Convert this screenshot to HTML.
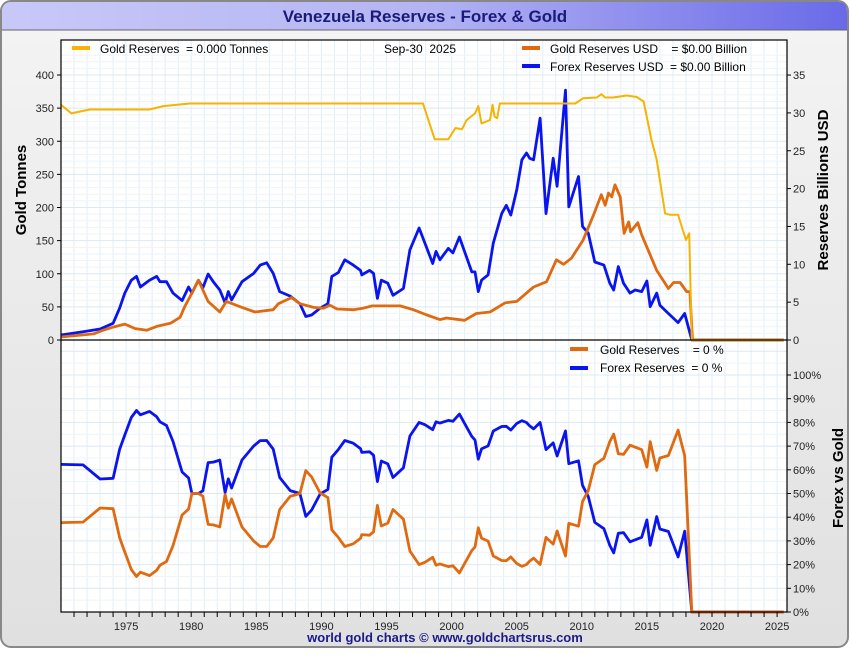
<!DOCTYPE html>
<html><head><meta charset="utf-8">
<style>
body{margin:0;width:850px;height:650px;overflow:hidden;background:#fff;font-family:"Liberation Sans",sans-serif;}
</style></head>
<body>
<svg id="c" width="850" height="650" xmlns="http://www.w3.org/2000/svg" font-family="Liberation Sans, sans-serif">
<defs>
<linearGradient id="tg" x1="0" x2="1" y1="0" y2="0"><stop offset="0" stop-color="#c8c8f8"/><stop offset="0.5" stop-color="#b4b4f4"/><stop offset="1" stop-color="#6a6ae8"/></linearGradient>
<linearGradient id="bg" x1="0" x2="0" y1="0" y2="1"><stop offset="0" stop-color="#f4f4f4"/><stop offset="1" stop-color="#e0e0e0"/></linearGradient>
</defs>
<rect x="1" y="1" width="847" height="646" rx="10" fill="url(#bg)" stroke="#888" stroke-width="2"/>
<path d="M2 30 V12 Q2 2 12 2 H838 Q847 2 847 12 V30 Z" fill="url(#tg)"/>
<line x1="2" y1="30" x2="847" y2="30" stroke="#666"/>
<text x="425" y="22" text-anchor="middle" font-size="17" font-weight="bold" fill="#1a1a7a">Venezuela Reserves - Forex &amp; Gold</text>
<rect x="61" y="40" width="726" height="572" fill="#fff"/>
<g id="grid"></g>
<g id="series"></g>
<rect x="61" y="40" width="726" height="572" fill="none" stroke="#000" stroke-width="1.2"/>
<line x1="61" y1="340" x2="787" y2="340" stroke="#000" stroke-width="1.2"/>
<g id="axes" font-size="11" fill="#222"></g>
<text transform="translate(26,190) rotate(-90)" text-anchor="middle" font-size="15" font-weight="bold">Gold Tonnes</text>
<text transform="translate(828,190) rotate(-90)" text-anchor="middle" font-size="15" font-weight="bold">Reserves Billions USD</text>
<text transform="translate(843,478) rotate(-90)" text-anchor="middle" font-size="15" font-weight="bold">Forex vs Gold</text>
<g font-size="12" fill="#000">
<rect x="72" y="46" width="18" height="4" fill="#f5b400"/>
<text x="100" y="53" xml:space="preserve">Gold Reserves  = 0.000 Tonnes</text>
<text x="384" y="53" xml:space="preserve">Sep-30  2025</text>
<rect x="522" y="46" width="18" height="4" fill="#e06a10"/>
<text x="550" y="53" xml:space="preserve">Gold Reserves USD    = $0.00 Billion</text>
<rect x="522" y="64" width="18" height="4" fill="#0a14f0"/>
<text x="550" y="71" xml:space="preserve">Forex Reserves USD  = $0.00 Billion</text>
<rect x="570" y="347" width="18" height="4" fill="#e06a10"/>
<text x="600" y="354" xml:space="preserve">Gold Reserves    = 0 %</text>
<rect x="570" y="366" width="18" height="4" fill="#0a14f0"/>
<text x="600" y="372" xml:space="preserve">Forex Reserves  = 0 %</text>
</g>
<text x="445" y="642" text-anchor="middle" font-size="13" font-weight="bold" fill="#1a1a8a">world gold charts © www.goldchartsrus.com</text>
</svg>
<script>
const goldYears=[1970,1970.8,1972.2,1976.8,1977.85,1979.9,1997.8,1998.7,1999.75,2000.3,2000.8,2001.15,2001.8,2002.05,2002.3,2002.95,2003.15,2003.3,2003.5,2003.7,2009.5,2010.1,2011.15,2011.5,2011.8,2012.4,2013.45,2014.2,2014.75,2015.35,2015.75,2016.4,2016.8,2017.4,2017.8,2018.0,2018.25,2018.45,2025.5];
const goldTonnes=[355,342,348,348,353,357,357,303,303,320,318,332,342,353,327,332,355,337,335,357,357,365,366,371,366,366,369,367,360,302,272,191,189,189,163,151,161,0,0];
const forexYears=[1970,1971.7,1973,1974,1974.5,1974.9,1975.4,1975.8,1976.1,1976.8,1977.35,1977.6,1978.1,1978.6,1979.3,1979.8,1980.05,1980.55,1980.9,1981.3,1981.7,1982.2,1982.6,1982.85,1983.1,1983.9,1984.8,1985.3,1985.8,1986.3,1986.8,1987.6,1988.35,1988.8,1989.25,1989.9,1990.5,1990.8,1991.3,1991.8,1992.45,1993,1993.1,1993.7,1994,1994.3,1994.6,1995.1,1995.5,1996.3,1996.8,1997.5,1997.95,1998.55,1998.8,1999.1,1999.75,2000.1,2000.6,2001.55,2001.8,2002.05,2002.3,2002.8,2003.2,2003.85,2004.2,2004.55,2005,2005.4,2005.75,2006,2006.3,2006.8,2007.25,2007.8,2008.1,2008.75,2009.0,2009.75,2010.05,2010.5,2011,2011.7,2012.15,2012.45,2012.8,2013.2,2013.7,2014.1,2014.6,2015,2015.25,2015.75,2016.0,2016.65,2017.4,2017.9,2018.45,2025.5];
const forexUsd=[0.66,1.1,1.45,2.2,4.2,6.2,7.9,8.4,7.0,7.9,8.4,7.7,7.7,6.2,5.2,7.0,6.2,7.9,6.9,8.7,7.7,6.6,4.9,6.4,5.3,7.7,8.8,9.9,10.2,8.8,6.4,5.8,4.8,3.1,3.3,4.2,4.8,8.4,8.9,10.6,9.9,9.2,8.6,9.2,8.8,5.5,7.9,7.5,5.9,6.8,11.9,14.8,12.8,10.1,11.7,10.6,12.1,11.5,13.6,9.0,9.0,6.4,7.9,8.6,12.8,16.7,17.8,16.5,19.8,23.8,24.7,24,23.8,29.3,16.7,24.0,20.3,33.0,17.6,21.6,15.0,14.1,10.3,9.9,7.5,6.6,9.7,7.5,6.2,6.6,6.4,7.8,4.4,6.2,4.6,3.5,2.3,3.5,0,0];
const goldUsdYears=[1970,1972.5,1973.25,1974,1974.9,1975.7,1976.6,1977.35,1978.4,1979.15,1979.5,1980.05,1980.55,1981.3,1982.2,1982.7,1983.75,1984.9,1986.3,1986.7,1987.7,1988.35,1989.4,1990.15,1990.65,1991.2,1992.45,1993.2,1993.9,1996.05,1997.05,1998.1,1999.1,1999.6,2001.0,2001.9,2002.95,2004.1,2005,2006.3,2007.3,2008.05,2008.6,2009.2,2010.1,2010.9,2011.5,2011.8,2012.05,2012.3,2012.55,2012.95,2013.25,2013.6,2013.75,2014.3,2014.6,2015.75,2016.65,2017.05,2017.55,2018.05,2018.3,2018.5,2025.5];
const goldUsd=[0.4,0.8,1.3,1.7,2.1,1.5,1.3,1.8,2.2,3.0,4.4,6.2,7.9,5.1,3.7,5.1,4.4,3.7,4.0,4.8,5.6,4.8,4.3,4.2,4.6,4.1,4.0,4.2,4.5,4.5,4.0,3.3,2.7,2.9,2.6,3.5,3.7,4.9,5.1,7.0,7.7,10.6,10.0,10.8,13.2,16.5,19.2,17.8,19.4,18.9,20.5,18.9,14.1,15.6,14.3,15.5,13.9,9.2,6.8,7.6,7.6,6.4,6.4,0,0];
const yearTicks=[1975,1980,1985,1990,1995,2000,2005,2010,2015,2020,2025];
const tonneTicks=[0,50,100,150,200,250,300,350,400];
const usdTicks=[0,5,10,15,20,25,30,35];
const pctTicks=[0,10,20,30,40,50,60,70,80,90,100];

const NS='http://www.w3.org/2000/svg';
const X=y=>61+(y-1970)*13.02;
const YT=t=>340-t*0.6625;
const YU=v=>340-v*7.57;
const YP=p=>612-p*2.37;
function mk(tag,attrs,parent){const e=document.createElementNS(NS,tag);for(const k in attrs)e.setAttribute(k,attrs[k]);parent.appendChild(e);return e;}
const grid=document.getElementById('grid'),ser=document.getElementById('series'),ax=document.getElementById('axes');
for(let y=1971;y<=2025;y++){const l=mk('line',{x1:X(y),x2:X(y),y1:40,y2:612,stroke:'#e2eef8','stroke-width':1},grid);


const t=mk('line',{x1:X(y),x2:X(y),y1:612,y2:617,stroke:'#000'},ax);

}
for(let v=10;v<=430;v+=10){const yy=YT(v);if(yy<40)break;const l=mk('line',{x1:61,x2:787,y1:yy,y2:yy,stroke:v%50==0?'#dde8f2':'#eef4fa'},grid);

}
for(let p=5;p<=110;p+=5){const yy=YP(p);if(yy<342)break;const l=mk('line',{x1:61,x2:787,y1:yy,y2:yy,stroke:p%10==0?'#dde8f2':'#eef4fa'},grid);

}
yearTicks.forEach(y=>{const t=mk('text',{x:X(y),y:630,'text-anchor':'middle'},ax);t.textContent=y;

});
tonneTicks.forEach(v=>{const t=mk('text',{x:54,y:YT(v)+4,'text-anchor':'end'},ax);t.textContent=v;


mk('line',{x1:57,x2:61,y1:YT(v),y2:YT(v),stroke:'#000'},ax);});
usdTicks.forEach(v=>{const t=mk('text',{x:793,y:YU(v)+4},ax);t.textContent=v;


mk('line',{x1:787,x2:791,y1:YU(v),y2:YU(v),stroke:'#000'},ax);});
pctTicks.forEach(v=>{const t=mk('text',{x:793,y:YP(v)+4},ax);t.textContent=v+'%';


mk('line',{x1:787,x2:791,y1:YP(v),y2:YP(v),stroke:'#000'},ax);});
function line(xs,ys,fy,color,name,w){const d=xs.map((x,i)=>(i?'L':'M')+X(x).toFixed(1)+' '+fy(ys[i]).toFixed(1)).join(' ');
const p=mk('path',{d:d,fill:'none',stroke:color,'stroke-width':w,'stroke-linejoin':'round'},ser);

}
function interp(xs,ys,x){if(x<=xs[0])return ys[0];for(let i=1;i<xs.length;i++){if(x<=xs[i]){const t=(x-xs[i-1])/(xs[i]-xs[i-1]);return ys[i-1]+t*(ys[i]-ys[i-1]);}}return ys[ys.length-1];}
line(forexYears,forexUsd,YU,'#0a14f0','forex-usd-line',2.8);
line(goldUsdYears,goldUsd,YU,'#e06a10','gold-usd-line',2.8);
line(goldYears,goldTonnes,YT,'#f5b400','gold-tonnes-line',2);
const goldAtForex=forexYears.map(y=>interp(goldUsdYears,goldUsd,y));
const forexPct=forexYears.map((y,i)=>{const s=forexUsd[i]+goldAtForex[i];return (s>0&&y<2018.45)?forexUsd[i]/s*100:0;});
const goldPct=forexYears.map((y,i)=>{const s=forexUsd[i]+goldAtForex[i];return (s>0&&y<2018.45)?goldAtForex[i]/s*100:0;});
line(forexYears,forexPct,YP,'#0a14f0','forex-pct-line',2.8);
line(forexYears,goldPct,YP,'#e06a10','gold-pct-line',2.8);
</script>
</body></html>
